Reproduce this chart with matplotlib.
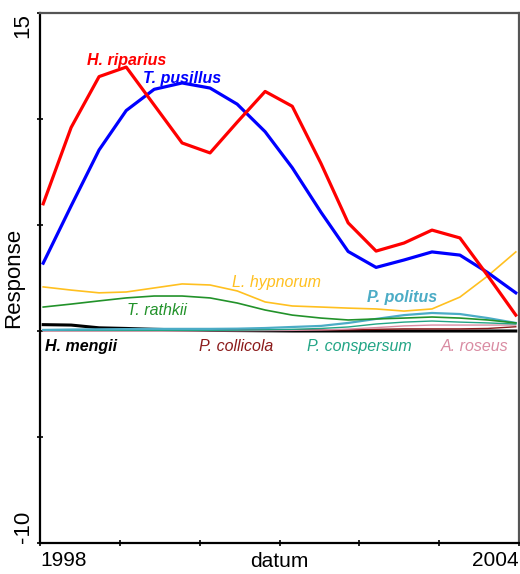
import numpy as np
import matplotlib.pyplot as plt

plt.rcParams['font.family'] = ['Liberation Sans', 'DejaVu Sans']

# sampling dates (decimal years) and fitted responses per species
datum = [1998.04, 1998.39, 1998.74, 1999.08, 1999.43, 1999.78, 2000.13, 2000.47,
         2000.82, 2001.16, 2001.52, 2001.86, 2002.21, 2002.56, 2002.91, 2003.26,
         2003.61, 2003.96]

h_riparius = [6.0, 9.6, 12.0, 12.45, 10.66, 8.87, 8.4, 9.85, 11.3, 10.6, 7.9, 5.1,
              3.77, 4.15, 4.76, 4.39, 2.6, 0.75]
t_pusillus = [3.2, 5.9, 8.54, 10.4, 11.4, 11.7, 11.46, 10.7, 9.4, 7.7, 5.6, 3.75,
              3.0, 3.35, 3.73, 3.58, 2.75, 1.8]
l_hypnorum = [2.08, 1.93, 1.8, 1.84, 2.03, 2.22, 2.17, 1.89, 1.37, 1.18, 1.13, 1.08,
              1.04, 0.94, 1.04, 1.6, 2.6, 3.73]
t_rathkii = [1.13, 1.27, 1.42, 1.56, 1.65, 1.65, 1.56, 1.32, 0.99, 0.75, 0.61, 0.52,
             0.57, 0.61, 0.66, 0.61, 0.52, 0.38]
p_politus = [0.05, 0.07, 0.08, 0.09, 0.1, 0.1, 0.1, 0.11, 0.14, 0.19, 0.24, 0.38,
             0.57, 0.75, 0.85, 0.8, 0.61, 0.38]
p_conspersum = [0.03, 0.03, 0.03, 0.03, 0.03, 0.03, 0.03, 0.04, 0.06, 0.08, 0.12, 0.19,
                0.33, 0.42, 0.47, 0.42, 0.38, 0.33]
a_roseus = [0.0, 0.0, 0.0, 0.0, 0.0, 0.0, 0.01, 0.01, 0.02, 0.03, 0.05, 0.09,
            0.16, 0.24, 0.28, 0.28, 0.28, 0.28]
p_collicola = [0.02, 0.02, 0.02, 0.02, 0.02, 0.02, 0.03, 0.04, 0.05, 0.05, 0.05, 0.06,
               0.08, 0.1, 0.1, 0.1, 0.12, 0.2]
h_mengii = [0.3, 0.28, 0.15, 0.12, 0.08, 0.05, 0.03, 0.02, 0.01, 0.0, 0.0, 0.0,
            0.0, 0.0, 0.0, 0.0, 0.0, 0.0]

fig = plt.figure(figsize=(5.2, 5.74), dpi=100)
ax = fig.add_axes([40 / 520, 1 - 543 / 574, 479 / 520, 530 / 574])

ax.plot(datum, h_mengii, color='black', lw=2.2)
ax.plot(datum, p_collicola, color='#8b1a1a', lw=1.0)
ax.plot(datum, a_roseus, color='#d98ba2', lw=1.0)
ax.plot(datum, p_conspersum, color='#22a585', lw=1.0)
ax.plot(datum, p_politus, color='#4bacc6', lw=1.6)
ax.plot(datum, t_rathkii, color='#22922a', lw=1.2)
ax.plot(datum, l_hypnorum, color='#ffc020', lw=1.2)
ax.plot(datum, t_pusillus, color='#0000ff', lw=2.3)
ax.plot(datum, h_riparius, color='#ff0000', lw=2.3)

# species names next to their curves
lab = dict(style='italic', fontsize=11.5, ha='center', va='center')
ax.text(1999.08, 12.74, 'H. riparius', color='#ff0000', weight='bold', **lab)
ax.text(1999.78, 11.93, 'T. pusillus', color='#0000ff', weight='bold', **lab)
ax.text(2000.96, 2.31, 'L. hypnorum', color='#ffc020', **lab)
ax.text(1999.46, 0.99, 'T. rathkii', color='#22922a', **lab)
ax.text(2002.54, 1.56, 'P. politus', color='#4bacc6', weight='bold', **lab)
ax.text(1998.51, -0.71, 'H. mengii', color='black', weight='bold', **lab)
ax.text(2000.46, -0.71, 'P. collicola', color='#8b1a1a', **lab)
ax.text(2002.0, -0.71, 'P. conspersum', color='#22a585', **lab)
ax.text(2003.45, -0.71, 'A. roseus', color='#d98ba2', **lab)

ax.set_xlim(1998, 2004)
ax.set_ylim(-10, 15)

ax.set_xticks(range(1998, 2005))
ax.set_xticklabels(['1998', '', '', '', '', '', '2004'], fontsize=15)
xl = ax.get_xticklabels()
xl[0].set_ha('left')
xl[-1].set_ha('right')

ax.set_yticks([-10, -5, 0, 5, 10, 15])
ax.set_yticklabels(['-10', '', '', '', '', '15'], fontsize=16, rotation=90)
yl = ax.get_yticklabels()
yl[0].set_va('bottom')
yl[-1].set_va('top')

ax.tick_params(direction='inout', length=5, width=1.2, pad=2)
ax.tick_params(axis='x', pad=3)

ax.set_xlabel('datum', fontsize=15)
ax.xaxis.set_label_coords(0.5, -0.017, transform=ax.transAxes)
ax.xaxis.label.set_va('top')
ax.set_ylabel('Response', fontsize=16)
ax.yaxis.set_label_coords(-0.033, 0.5)

for s in ['left', 'bottom']:
    ax.spines[s].set_linewidth(1.6)
    ax.spines[s].set_color('black')
for s in ['top', 'right']:
    ax.spines[s].set_linewidth(1.6)
    ax.spines[s].set_color('#555555')

fig.savefig('out.png', dpi=100)
